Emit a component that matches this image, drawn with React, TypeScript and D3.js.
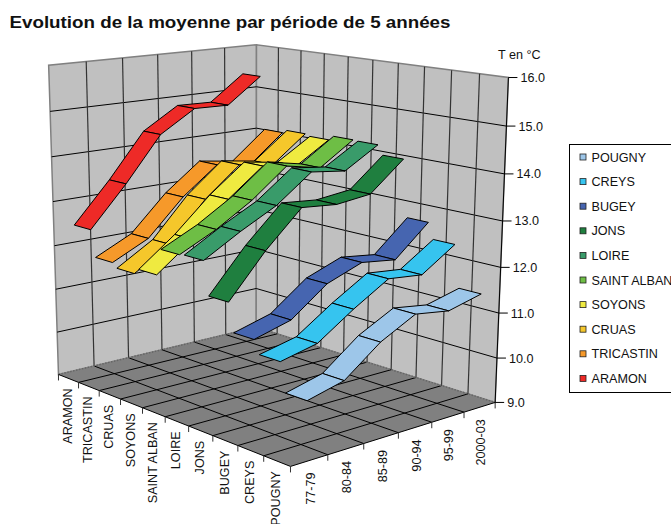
import React from "react";
import * as d3 from "d3";

const categories = ["ARAMON","TRICASTIN","CRUAS","SOYONS","SAINT ALBAN","LOIRE","JONS","BUGEY","CREYS","POUGNY"];
const periods = ["77-79","80-84","85-89","90-94","95-99","2000-03"];
const colors = ["#EE2A27","#F6992A","#F5C72B","#EFEA40","#6EBE45","#399B6A","#1F7F3F","#4665B0","#36C4EF","#9DC6E9"];
const yTicks = [9,10,11,12,13,14,15,16];
const aramon = [12.41,13.31,14.31,14.80,14.78,15.36];
const tricastin = [11.81,12.20,13.00,13.61,13.49,14.13];
const cruas = [11.71,12.20,13.07,13.72,13.60,14.20];
const soyons = [11.83,12.45,13.19,13.80,13.68,14.16];
const saintAlban = [12.41,12.80,13.29,13.91,13.75,14.26];
const loire = [12.43,12.89,13.30,13.89,13.79,14.25];
const jons = [11.71,12.62,13.38,13.31,13.40,14.04];
const bugey = [11.10,11.32,11.91,12.20,12.10,12.77];
const creys = [10.82,11.00,11.53,12.00,11.92,12.42];
const pougny = [10.21,10.41,11.01,11.41,11.30,11.49];
const values = [aramon,tricastin,cruas,soyons,saintAlban,loire,jons,bugey,creys,pougny];

const anchors: [number,number,number,number,number][] = [
[0,0,9,60,374],[10,0,9,291,467],[0,6,9,258,328],[10,6,9,495,402],
[0,0,16,48,65],[0,6,16,257,45],[10,6,16,508,77],
[5,0,9,166,417],[10,3,9,398,433],[0,3,9,158,349],[5,6,9,367,362],[5,6,16,373,60],[0,3,16,158,55],
];
function solve(A:number[][],b:number[]){const n=b.length;const M=A.map((r,i)=>[...r,b[i]]);
 for(let i=0;i<n;i++){let p=i;for(let k=i+1;k<n;k++)if(Math.abs(M[k][i])>Math.abs(M[p][i]))p=k;[M[i],M[p]]=[M[p],M[i]];
  for(let k=0;k<n;k++){if(k===i)continue;const f=M[k][i]/M[i][i];for(let j=i;j<=n;j++)M[k][j]-=f*M[i][j];}}
 return M.map((r,i)=>r[n]/r[i]);}
const sN=d3.scaleLinear([0,10],[0,1]),tN=d3.scaleLinear([0,6],[0,1]),vN=d3.scaleLinear([9,16],[0,1]);
const rows:number[][]=[],rhs:number[]=[];
anchors.forEach(([s,t,v,x,y])=>{const S=sN(s),T=tN(t),V=vN(v);const u=x/500,w=y/500;
 rows.push([S,T,V,1,0,0,0,0,-u*S,-u*T,-u*V]);rhs.push(u);
 rows.push([0,0,0,0,S,T,V,1,-w*S,-w*T,-w*V]);rhs.push(w);});
const ATA=d3.range(11).map(i=>d3.range(11).map(j=>d3.sum(rows,r=>r[i]*r[j])));
const ATb=d3.range(11).map(i=>d3.sum(rows,(r,k)=>r[i]*rhs[k]));
const m=solve(ATA,ATb);
function P(s:number,t:number,v:number):[number,number]{const S=sN(s),T=tN(t),V=vN(v);const d=m[8]*S+m[9]*T+m[10]*V+1;
 return [500*(m[0]*S+m[1]*T+m[2]*V+m[3])/d,500*(m[4]*S+m[5]*T+m[6]*V+m[7])/d];}
const line=d3.line();
const poly=(p:[number,number][])=>line(p)+"Z";
const font="'Liberation Sans', Arial, sans-serif";
export default function App(){
 const F=(a:[number,number,number],b:[number,number,number],c:[number,number,number],e:[number,number,number])=>poly([P(...a),P(...b),P(...c),P(...e)]);
 return <svg width={671} height={524} style={{position:"absolute",left:0,top:0,background:"#fff"}} fontFamily={font} fontSize={12.6} fill="#111">
  <text x={9.5} y={28} fontSize={16} fontWeight="bold" textLength={441} lengthAdjust="spacingAndGlyphs">Evolution de la moyenne par période de 5 années</text>
  <path d={F([0,0,9],[0,6,9],[0,6,16],[0,0,16])} fill="#C0C0C0" stroke="#808080" strokeWidth={1.5}/>
  <path d={F([0,6,9],[10,6,9],[10,6,16],[0,6,16])} fill="#C0C0C0" stroke="#808080" strokeWidth={1.5}/>
  <path d={F([0,0,9],[10,0,9],[10,6,9],[0,6,9])} fill="#808080"/>
  {yTicks.slice(1,-1).map(v=><path key={v} d={line([P(0,0,v),P(0,6,v),P(10,6,v)])!} stroke="#000" fill="none"/>)}
  {d3.range(1,6).map(t=><path key={t} d={line([P(0,t,9),P(0,t,16)])!} stroke="#333" strokeWidth={1.2}/>)}
  {d3.range(1,10).map(s=><path key={s} d={line([P(s,6,9),P(s,6,16)])!} stroke="#333" strokeWidth={1.2}/>)}
  {d3.range(1,6).map(t=><path key={t} d={line([P(0,t,9),P(10,t,9)])!} stroke="#000"/>)}
  {d3.range(1,10).map(s=><path key={s} d={line([P(s,0,9),P(s,6,9)])!} stroke="#000"/>)}
  <path d={line([P(0,0,9),P(0,6,9),P(10,6,9)])!} stroke="#666" strokeWidth={1.5} strokeDasharray="1.5 1.5" fill="none"/>
  <path d={line([P(0,0,9),P(10,0,9),P(10,6,9),P(10,6,16)])!} stroke="#000" fill="none"/>
  {d3.range(0,11).map(s=>{const p=P(s,0,9);return <path key={s} d={line([p,[p[0],p[1]+6]])!} stroke="#333"/>})}
  {d3.range(1,7).map(t=>{const p=P(10,t,9);return <path key={t} d={line([p,[p[0],p[1]+6]])!} stroke="#333"/>})}
  {yTicks.map(v=>{const p=P(10,6,v);return <g key={v}><path d={line([p,[p[0]+9,p[1]]])!} stroke="#000"/>
   <text x={p[0]+12} y={p[1]+4.5}>{v.toFixed(1)}</text></g>})}
  <text x={498} y={59}>T en °C</text>
  {categories.map((c,i)=>{const p=P(i+.5,0,9);return <text key={c} transform={`translate(${p[0]-1},${p[1]+10}) rotate(-90)`} textAnchor="end" dy="0.35em">{c}</text>})}
  {periods.map((c,i)=>{const p=P(10,i+.5,9);return <text key={c} transform={`translate(${p[0]+1},${p[1]+12}) rotate(-90)`} textAnchor="end" dy="0.35em">{c}</text>})}
  {categories.map((c,i)=>d3.range(4,-1,-1).map(j=><path key={c+j} d={F([i+.1,j+.5,values[i][j]],[i+.9,j+.5,values[i][j]],[i+.9,j+1.5,values[i][j+1]],[i+.1,j+1.5,values[i][j+1]])} fill={colors[i]} stroke="#000" strokeLinejoin="round"/>))}
  <rect x={569.5} y={144.5} width={120} height={248} fill="#fff" stroke="#000"/>
  {[...categories].reverse().map((c,i)=>{const y=157+i*24.6;const col=colors[9-i];return <g key={c}><rect x={580} y={y-3} width={6} height={6} fill={col} stroke="#222" strokeWidth={.8}/><text x={591.5} y={y+4.5}>{c}</text></g>})}
 </svg>;
}
